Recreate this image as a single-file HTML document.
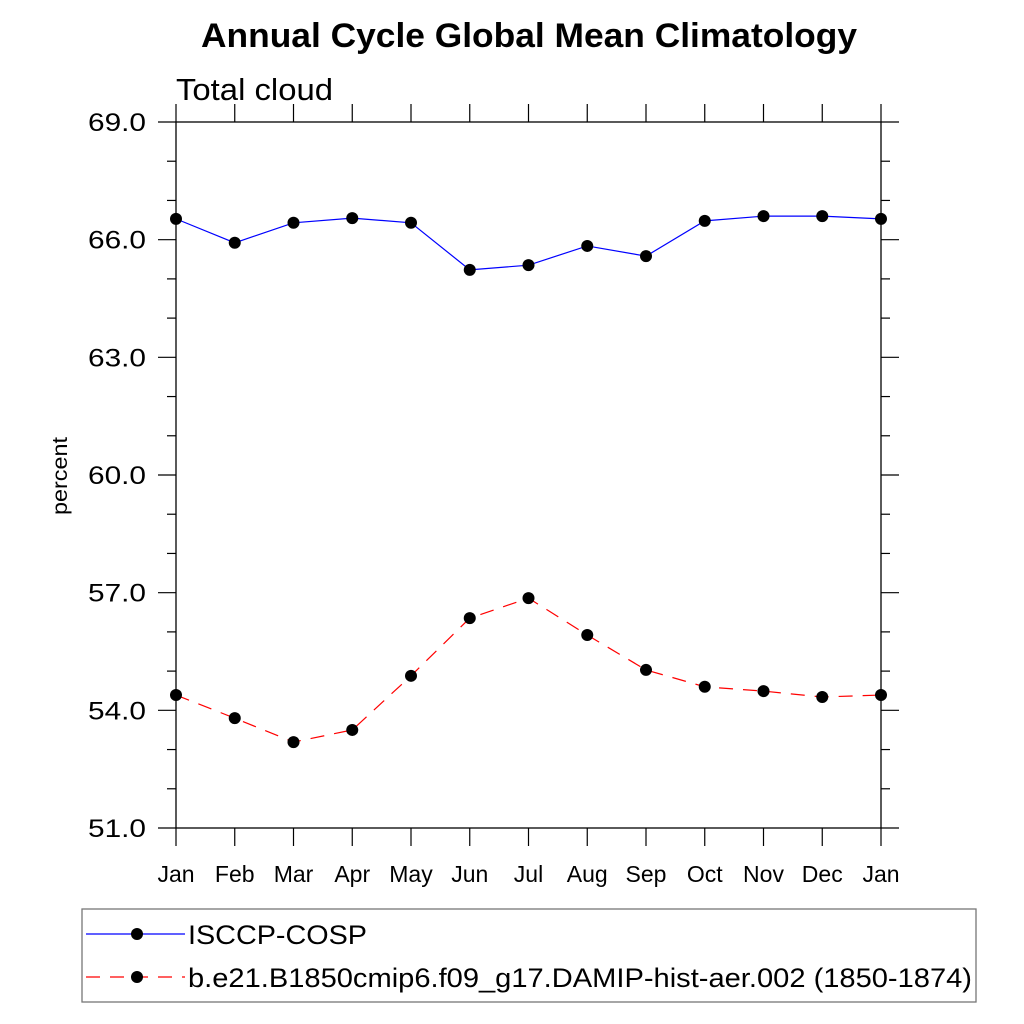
<!DOCTYPE html>
<html><head><meta charset="utf-8"><style>
body{margin:0;background:#fff}
svg{display:block;font-family:"Liberation Sans",Arial,sans-serif}
</style></head><body>
<svg id="chart" width="1024" height="1024" viewBox="0 0 1024 1024">
<text x="529" y="47" font-size="34" font-weight="bold" text-anchor="middle" textLength="656" lengthAdjust="spacingAndGlyphs">Annual Cycle Global Mean Climatology</text>
<text x="176" y="100" font-size="31" textLength="157" lengthAdjust="spacingAndGlyphs">Total cloud</text>
<text transform="translate(67,476) rotate(-90)" font-size="21" text-anchor="middle" textLength="78" lengthAdjust="spacingAndGlyphs">percent</text>
<rect x="176" y="122" width="705" height="706" fill="none" stroke="#000" stroke-width="1.3"/>
<g id="axes"></g>
<g id="series"></g>
<g>
<rect x="82" y="909" width="894" height="93" fill="none" stroke="#777" stroke-width="1.3"/>
<g>
<line x1="86" y1="934" x2="185" y2="934" stroke="#0000ff" stroke-width="1.2"/>
<circle cx="137" cy="934" r="6" fill="#000"/>
<text x="188" y="944" font-size="27" textLength="179" lengthAdjust="spacingAndGlyphs">ISCCP-COSP</text></g>
<g>
<line x1="86" y1="977" x2="185" y2="977" stroke="#ff0000" stroke-width="1.2" stroke-dasharray="14,10"/>
<circle cx="137" cy="977" r="6" fill="#000"/>
<text x="188" y="987" font-size="27" textLength="784" lengthAdjust="spacingAndGlyphs">b.e21.B1850cmip6.f09_g17.DAMIP-hist-aer.002 (1850-1874)</text></g>
</g>
</svg>
<script>
const months=["Jan","Feb","Mar","Apr","May","Jun","Jul","Aug","Sep","Oct","Nov","Dec","Jan"];
const isccp=[66.53,65.92,66.43,66.55,66.43,65.23,65.35,65.84,65.58,66.48,66.60,66.60,66.53];
const model=[54.39,53.80,53.19,53.50,54.88,56.35,56.86,55.92,55.03,54.60,54.49,54.34,54.39];
const yTicks=[51,54,57,60,63,66,69];
const NS="http://www.w3.org/2000/svg";
const X0=176,X1=881,Y0=828,Y1=122,YMIN=51,YMAX=69;
function xs(i){return X0+(X1-X0)*i/(months.length-1);}
function ys(v){return Y0-(v-YMIN)/(YMAX-YMIN)*(Y0-Y1);}
function mk(t,a){const e=document.createElementNS(NS,t);for(const k in a)e.setAttribute(k,a[k]);return e;}
const axes=document.getElementById('axes'),ser=document.getElementById('series');
for(let v=YMIN;v<=YMAX;v++){
 const major=(v-YMIN)%3===0,len=major?18:9,y=ys(v);
 const l=mk('line',{x1:X0-len,x2:X0,y1:y,y2:y,stroke:'#000','stroke-width':1.2});
 
 
 axes.appendChild(l);
 const r=mk('line',{x1:X1,x2:X1+len,y1:y,y2:y,stroke:'#000','stroke-width':1.2});
 
 
 axes.appendChild(r);
}
yTicks.forEach(v=>{
 const t=mk('text',{x:146,y:ys(v)+9,'font-size':25,'text-anchor':'end',textLength:58,lengthAdjust:'spacingAndGlyphs'});
 t.textContent=v.toFixed(1);
 
 
 axes.appendChild(t);
});
months.forEach((m,i)=>{
 const x=xs(i);
 const b=mk('line',{x1:x,x2:x,y1:Y0,y2:Y0+18,stroke:'#000','stroke-width':1.2});
 
 
 axes.appendChild(b);
 const tp=mk('line',{x1:x,x2:x,y1:Y1-18,y2:Y1,stroke:'#000','stroke-width':1.2});
 
 
 axes.appendChild(tp);
 const t=mk('text',{x:x,y:882,'font-size':23,'text-anchor':'middle'});
 t.textContent=m;
 
 
 axes.appendChild(t);
});
function draw(vals,color,dash,name){
 const pts=vals.map((v,i)=>xs(i)+','+ys(v)).join(' ');
 const pl=mk('polyline',{points:pts,fill:'none',stroke:color,'stroke-width':1.2});
 if(dash)pl.setAttribute('stroke-dasharray',dash);
 
 
 ser.appendChild(pl);
 vals.forEach((v,i)=>{
  const c=mk('circle',{cx:xs(i),cy:ys(v),r:6,fill:'#000'});
  
  
  ser.appendChild(c);
 });
}
draw(isccp,'#0000ff',null,'isccp');
draw(model,'#ff0000','14,10','model');
</script>
</body></html>
